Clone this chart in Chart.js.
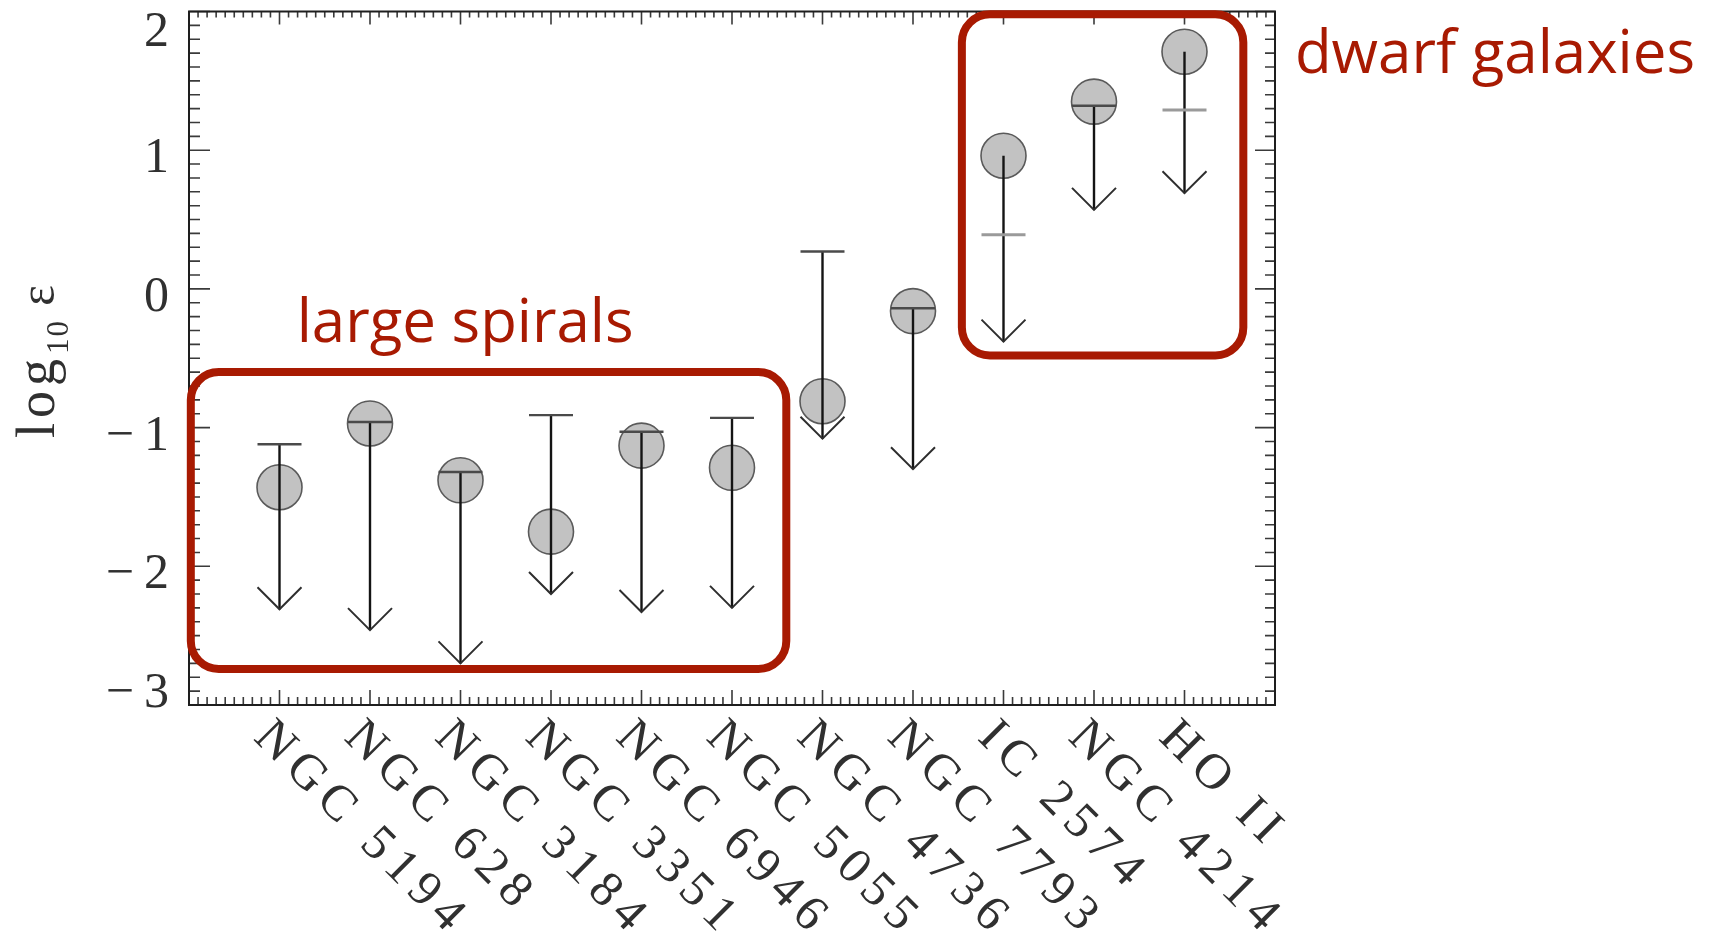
<!DOCTYPE html>
<html>
<head>
<meta charset="utf-8">
<script src="https://cdn.jsdelivr.net/npm/chart.js@4.4.1/dist/chart.umd.min.js"></script>
<style>
  html, body { margin: 0; padding: 0; background: #ffffff; }
  #wrap { position: relative; width: 1718px; height: 950px; }
</style>
</head>
<body>
<div id="wrap"><canvas id="chart"></canvas></div>
<script>
// Galaxies along the x axis (one category per integer position)
const galaxies = ['NGC 5194', 'NGC 628', 'NGC 3184', 'NGC 3351', 'NGC 6946', 'NGC 5055',
                  'NGC 4736', 'NGC 7793', 'IC 2574', 'NGC 4214', 'HO II'];

// Measured log10 epsilon (filled circles)
const logEpsilon = [-1.43, -0.97, -1.38, -1.75, -1.13, -1.29, -0.81, -0.16, 0.96, 1.35, 1.71];

// Upper-limit bar level (horizontal cap)
const limitCap   = [-1.12, -0.96, -1.32, -0.91, -1.03, -0.93, 0.27, -0.14, 0.39, 1.32, 1.29];

// Upper-limit arrow: top of the shaft and arrow tip
const shaftTop   = [-1.12, -0.96, -1.32, -0.91, -1.03, -0.93, 0.27, -0.14, 0.96, 1.32, 1.71];
const shaftTip   = [-2.31, -2.46, -2.70, -2.20, -2.33, -2.30, -1.08, -1.30, -0.38, 0.57, 0.69];

// Y tick values
const yTickValues = [-3, -2, -1, 0, 1, 2];

// Highlighted groups
const groupNames = ['large spirals', 'dwarf galaxies'];

const RED = '#a81a02';
const INK = '#303030';

// Rounded boxes (data coordinates) and their captions
const groupBoxes = [
  { xFrom: -0.98, xTo: 5.60,  yFrom: -2.74, yTo: -0.60, textX: 0.19,  textY: -0.38 },
  { xFrom: 7.54,  xTo: 10.65, yFrom: -0.48, yTo: 1.98,  textX: 11.22, textY: 1.56 }
];

// Frame with inward major/minor ticks on all four sides, plus tick labels
const framePlugin = {
  id: 'framePlugin',
  beforeDatasetsDraw(chart) {
    const { ctx, chartArea: a, scales: { x, y } } = chart;
    ctx.save();
    ctx.strokeStyle = '#3a3a3a';
    ctx.lineWidth = 1.6;
    ctx.beginPath();
    // x ticks every 0.1, major on the categories
    for (let k = -10; k <= 110; k++) {
      const px = x.getPixelForValue(k / 10);
      const major = k % 10 === 0;
      ctx.moveTo(px, a.bottom); ctx.lineTo(px, a.bottom - (major ? 15 : 8));
      ctx.moveTo(px, a.top);    ctx.lineTo(px, a.top + (major ? 13 : 6));
    }
    // y ticks every 0.1, major on integers
    for (let k = -30; k <= 20; k++) {
      const py = y.getPixelForValue(k / 10);
      const major = k % 10 === 0;
      ctx.moveTo(a.left, py);  ctx.lineTo(a.left + (major ? 21 : 11), py);
      ctx.moveTo(a.right, py); ctx.lineTo(a.right - (major ? 20 : 10), py);
    }
    ctx.stroke();

    ctx.strokeStyle = '#1e1e1e';
    ctx.lineWidth = 2;
    ctx.strokeRect(a.left, a.top, a.right - a.left, a.bottom - a.top);

    // y tick labels
    ctx.fillStyle = INK;
    ctx.font = '50px "Liberation Serif"';
    ctx.textAlign = 'right';
    ctx.textBaseline = 'alphabetic';
    yTickValues.forEach(v => {
      const py = y.getPixelForValue(v);
      const base = Math.min(Math.max(py + 22, a.top + 34), a.bottom + 2);
      const txt = v < 0 ? '\u2212\u2009' + Math.abs(v) : String(v);
      ctx.fillText(txt, a.left - 20, base);
    });

    // x tick labels, slanted downward to the right
    ctx.font = '50px "Liberation Serif"';
    ctx.textAlign = 'left';
    ctx.letterSpacing = '8px';
    galaxies.forEach((g, i) => {
      const px = x.getPixelForValue(i);
      ctx.save();
      ctx.translate(px - 3, a.bottom + 10);
      ctx.rotate(Math.PI / 4);
      ctx.fillText(g, 0, 34);
      ctx.restore();
    });
    ctx.letterSpacing = '0px';

    // y axis title: log10 epsilon
    ctx.save();
    ctx.translate(54, 438);
    ctx.rotate(-Math.PI / 2);
    ctx.textAlign = 'left';
    ctx.font = '54px "Liberation Serif"';
    ctx.letterSpacing = '5px';
    ctx.fillText('log', 0, 0);
    ctx.letterSpacing = '2px';
    ctx.font = '31px "Liberation Serif"';
    ctx.fillText('10', 84, 14);
    ctx.letterSpacing = '0px';
    ctx.font = '50px "Liberation Serif"';
    ctx.fillText('\u03B5', 132, 0);
    ctx.restore();

    ctx.restore();
  }
};

// Upper-limit arrows and caps
const limitPlugin = {
  id: 'limitPlugin',
  afterDatasetsDraw(chart) {
    const { ctx, scales: { x, y } } = chart;
    ctx.save();
    ctx.lineCap = 'butt';
    galaxies.forEach((g, i) => {
      const px = x.getPixelForValue(i);
      const yTop = y.getPixelForValue(shaftTop[i]);
      const yTip = y.getPixelForValue(shaftTip[i]);
      const yCap = y.getPixelForValue(limitCap[i]);

      ctx.strokeStyle = '#141414';
      ctx.lineWidth = 2.4;
      ctx.beginPath();
      ctx.moveTo(px, yTop); ctx.lineTo(px, yTip);
      ctx.stroke();

      ctx.strokeStyle = '#2e2e2e';
      ctx.lineWidth = 2;
      ctx.beginPath();
      ctx.moveTo(px - 22, yTip - 22); ctx.lineTo(px, yTip); ctx.lineTo(px + 22, yTip - 22);
      ctx.stroke();

      const atTop = limitCap[i] === shaftTop[i];
      ctx.strokeStyle = atTop ? '#4a4a4a' : '#9a9a9a';
      ctx.lineWidth = atTop ? 2.4 : 3;
      ctx.beginPath();
      ctx.moveTo(px - 22, yCap); ctx.lineTo(px + 22, yCap);
      ctx.stroke();
    });
    ctx.restore();
  }
};

// Red rounded boxes with captions
const groupPlugin = {
  id: 'groupPlugin',
  afterDraw(chart) {
    const { ctx, scales: { x, y } } = chart;
    ctx.save();
    ctx.strokeStyle = RED;
    ctx.fillStyle = RED;
    ctx.lineWidth = 8;
    ctx.font = '60px "Open Sans"';
    ctx.textAlign = 'left';
    ctx.textBaseline = 'alphabetic';
    groupBoxes.forEach((b, i) => {
      const l = x.getPixelForValue(b.xFrom), r = x.getPixelForValue(b.xTo);
      const t = y.getPixelForValue(b.yTo), btm = y.getPixelForValue(b.yFrom);
      ctx.beginPath();
      ctx.roundRect(l, t, r - l, btm - t, 28);
      ctx.stroke();
      ctx.fillText(groupNames[i], x.getPixelForValue(b.textX), y.getPixelForValue(b.textY));
    });
    ctx.restore();
  }
};

new Chart(document.getElementById('chart'), {
  type: 'scatter',
  data: {
    datasets: [{
      data: logEpsilon.map((v, i) => ({ x: i, y: v })),
      pointRadius: 22.5,
      pointHoverRadius: 22.5,
      backgroundColor: '#c2c2c2',
      borderColor: '#5a5a5a',
      borderWidth: 1.6,
      clip: false
    }]
  },
  options: {
    responsive: true,
    maintainAspectRatio: false,
    animation: false,
    events: [],
    layout: { autoPadding: false, padding: { left: 189, right: 443, top: 11.5, bottom: 245 } },
    scales: {
      x: { type: 'linear', min: -1, max: 11, display: false },
      y: { type: 'linear', min: -3, max: 2, display: false }
    },
    plugins: { legend: { display: false }, tooltip: { enabled: false } }
  },
  plugins: [framePlugin, limitPlugin, groupPlugin]
});
</script>
</body>
</html>
